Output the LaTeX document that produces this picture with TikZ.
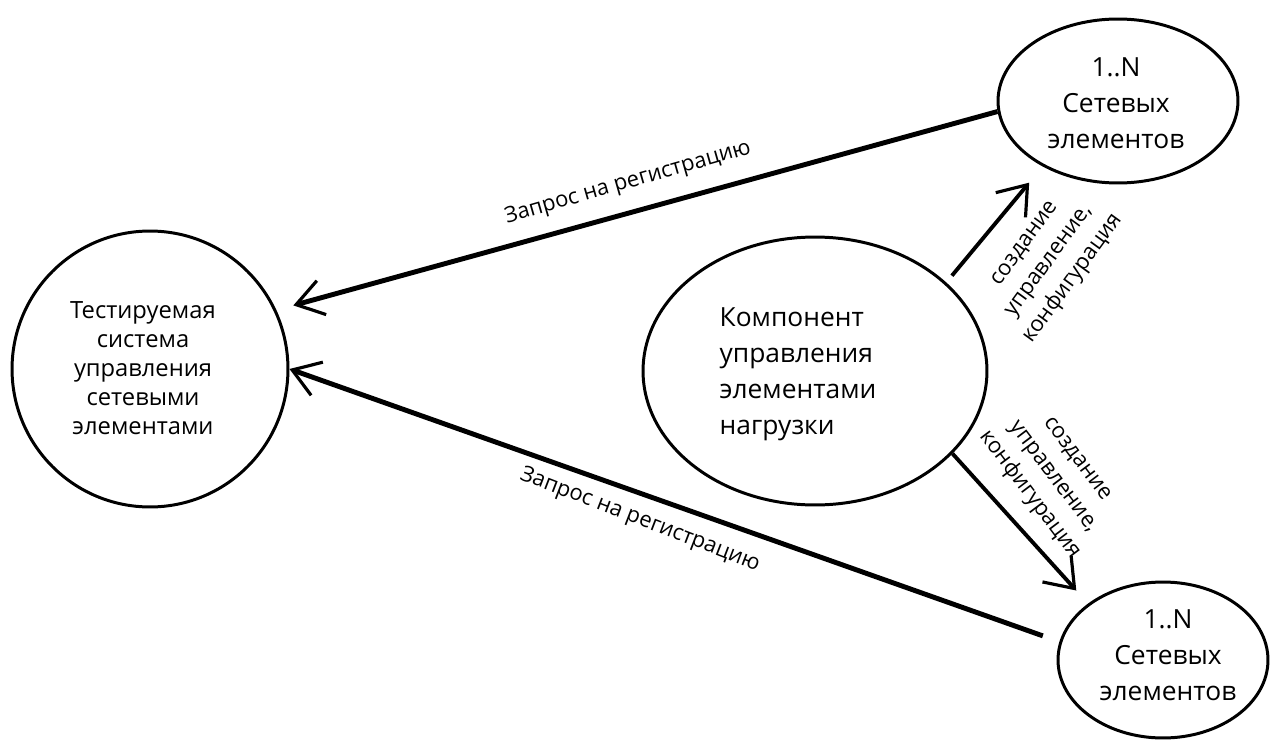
\documentclass[tikz,border=0pt]{standalone}
\usepackage{fontspec}
\setmainfont{Open Sans}
\usetikzlibrary{shapes.geometric,arrows.meta}
\tikzset{
  bubble/.style={draw=black, line width=1.7pt, ellipse, inner sep=0pt},
  bigtxt/.style={font=\fontsize{15}{20.5}\selectfont, align=center, inner sep=0pt},
  lefttxt/.style={font=\fontsize{13.5}{16.5}\selectfont, align=center, inner sep=0pt},
  lbl/.style={font=\fontsize{12.5}{17}\selectfont, align=center, inner sep=0pt},
  req/.style={line width=2.8pt, -{Straight Barb[length=15pt,width=20pt,line width=1.8pt]}},
  ctl/.style={line width=2.2pt, -{Straight Barb[length=15pt,width=22pt,line width=1.8pt]}}
}
\begin{document}
\begin{tikzpicture}[x=0.02cm,y=-0.02cm]
\useasboundingbox[fill=white] (0,0) rectangle (1271,740);
% circles
\node[bubble, minimum width=5.52cm, minimum height=5.52cm] (lc) at (150,369) {};
\node[bubble, minimum width=6.88cm, minimum height=5.36cm] (mc) at (815,371) {};
\node[bubble, minimum width=4.8cm, minimum height=3.28cm] (tr) at (1118,101) {};
\node[bubble, minimum width=4.2cm, minimum height=3.12cm] (br) at (1163,660) {};
% texts
\node[lefttxt] (lct) at (143,368) {Тестируемая\\система\\управления\\сетевыми\\элементами};
\node[bigtxt, align=left] (mct) at (798,374) {Компонент\\управления\\элементами\\нагрузки};
\node[bigtxt] (trt) at (1116,103) {1..N\\Сетевых\\элементов};
\node[bigtxt] (brt) at (1168,655) {1..N\\Сетевых\\элементов};
% arrows
\draw[req, shorten >=10pt] (tr.185) -- (lc.25);
\draw[req, shorten <=10pt] (br.170) -- (lc.0);
\draw[ctl, shorten <=5pt, shorten >=12pt] (mc.34) -- (tr.221);
\draw[ctl, shorten >=10pt] (mc.-31) -- (br.143);
% labels
\node[lbl, rotate=16] (l1) at (628,183) {Запрос на регистрацию};
\node[lbl, rotate=-21] (l2) at (640,520) {Запрос на регистрацию};
\node[lbl, rotate=54] (l3) at (1050,262) {создание\\управление,\\конфигурация};
\node[lbl, rotate=-53] (l4) at (1052,478) {создание\\управление,\\конфигурация};
\end{tikzpicture}
\end{document}
